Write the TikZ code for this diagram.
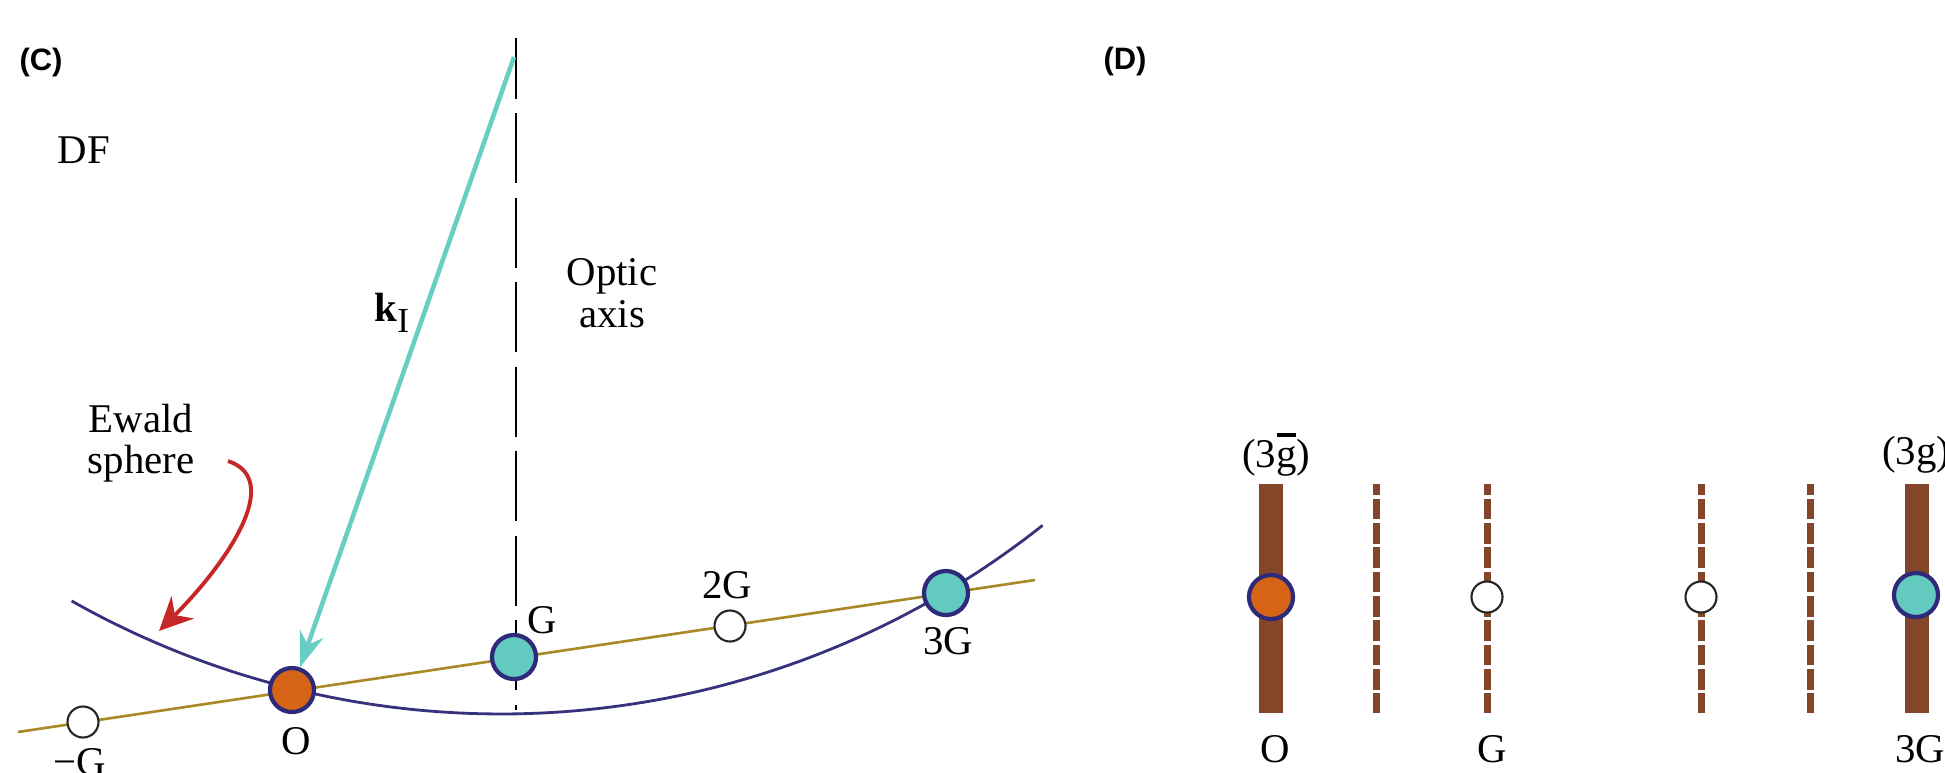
\documentclass[tikz,border=0pt]{standalone}
\usepackage{fontspec}
\setmainfont{Liberation Serif}
\newfontfamily\panelfont{Liberation Sans}
\usetikzlibrary{arrows.meta}
\definecolor{navy}{RGB}{46,42,122}
\definecolor{ewaldc}{RGB}{55,50,125}
\definecolor{goldline}{RGB}{170,138,40}
\definecolor{orangefill}{RGB}{214,100,22}
\definecolor{tealfill}{RGB}{98,202,190}
\definecolor{kcyan}{RGB}{104,206,196}
\definecolor{redarr}{RGB}{198,40,40}
\definecolor{barbrown}{RGB}{133,69,40}
\newcommand{\gbarred}{\makebox[0pt][l]{\hspace{0.03em}\raisebox{0.76em}{\rule{0.45em}{0.085em}}}g}
\begin{document}
\begin{tikzpicture}[x=0.01cm,y=-0.01cm,
  font=\fontsize{11.6}{11.8}\selectfont,
  lab/.style={inner sep=0pt},
  panel/.style={inner sep=0pt,font=\panelfont\bfseries\fontsize{8.8}{10}\selectfont},
  bigspot/.style={circle,draw=navy,line width=1.2pt,minimum size=0.44cm,inner sep=0pt},
  smallspot/.style={circle,draw=black!85,fill=white,line width=0.6pt,minimum size=0.31cm,inner sep=0pt},
  golden/.style={draw=goldline,line width=0.75pt},
  ewald/.style={draw=ewaldc,line width=0.8pt},
  opticaxis/.style={draw=black,line width=0.6pt,dash pattern=on 0.70cm off 0.145cm,dash phase=0.095cm},
  kvec/.style={draw=kcyan,line width=1.3pt,-{Stealth[length=10pt,width=7pt]}},
  redcurve/.style={draw=redarr,line width=1.1pt,-{Stealth[length=9.5pt,width=9pt]}},
  thickbar/.style={draw=barbrown,line width=0.24cm},
  dashbar/.style={draw=barbrown,line width=0.07cm,dash pattern=on 0.207cm off 0.036cm,dash phase=0.097cm}
]
\useasboundingbox (0,0) rectangle (1945,772);

% ---------------- panel C ----------------
\node[panel] (Clab) at (41,62) {(C)};
\node[lab] (DF) at (84,150) {DF};

\coordinate (Lleft) at (18,732);
\coordinate (Lright) at (1035,580);
\coordinate (axtop) at (516,38);
\coordinate (axbot) at (516,710);
\coordinate (ktop) at (514,57);
\coordinate (ewA) at (228,461);
\coordinate (ewB) at (159,631);

\draw[golden] (Lleft) -- (Lright);
\draw[ewald] plot[domain=51.6:119.5,samples=90] ({501+872*cos(\x)},{-158+872*sin(\x)});
\draw[opticaxis] (axtop) -- (axbot);

\node[smallspot] (mG) at (83,722) {};
\node[bigspot,fill=orangefill] (O) at (292,690) {};
\node[bigspot,fill=tealfill] (G) at (514,657) {};
\node[smallspot] (G2) at (730,626) {};
\node[bigspot,fill=tealfill] (G3) at (946,593) {};

\draw[kvec] (ktop) -- (O);

\node[lab] (kI) at (392,313) {\textbf{k}\raisebox{-3pt}{\fontsize{10}{10}\selectfont I}};
\node[lab,align=center] (optic) at (612,293) {Optic\\axis};
\node[lab,align=center] (ewlab) at (141,443) {Ewald\\sphere};
\draw[redcurve] (ewA) .. controls (285,480) and (225,565) .. (ewB);

\node[lab,anchor=base] (mGlab) at (80,775) {−G};
\node[lab] (Olab) at (296,741) {O};
\node[lab] (Glab) at (542,620) {G};
\node[lab] (G2lab) at (727,585) {2G};
\node[lab] (G3lab) at (948,641) {3G};

% ---------------- panel D ----------------
\node[panel] (Dlab) at (1125,61) {(D)};

\coordinate (b0t) at (1271,484); \coordinate (b0b) at (1271,713);
\coordinate (d1t) at (1376,484); \coordinate (d1b) at (1376,713);
\coordinate (d2t) at (1487,484); \coordinate (d2b) at (1487,713);
\coordinate (d3t) at (1701,484); \coordinate (d3b) at (1701,713);
\coordinate (d4t) at (1810,484); \coordinate (d4b) at (1810,713);
\coordinate (b3t) at (1917,484); \coordinate (b3b) at (1917,713);

\draw[thickbar] (b0t) -- (b0b);
\draw[dashbar] (d1t) -- (d1b);
\draw[dashbar] (d2t) -- (d2b);
\draw[dashbar] (d3t) -- (d3b);
\draw[dashbar] (d4t) -- (d4b);
\draw[thickbar] (b3t) -- (b3b);

\node[bigspot,fill=orangefill] (DO) at (1271,597) {};
\node[smallspot] (DG) at (1487,597) {};
\node[smallspot] (DG2) at (1701,597) {};
\node[bigspot,fill=tealfill] (DG3) at (1916,595) {};

\node[lab] (hl) at (1276,455) {(3\gbarred)};
\node[lab] (hr) at (1916,455) {(3g)};
\node[lab] (DOlab) at (1275,749) {O};
\node[lab] (DGlab) at (1492,749) {G};
\node[lab] (DG3lab) at (1920,749) {3G};
\end{tikzpicture}
\end{document}
